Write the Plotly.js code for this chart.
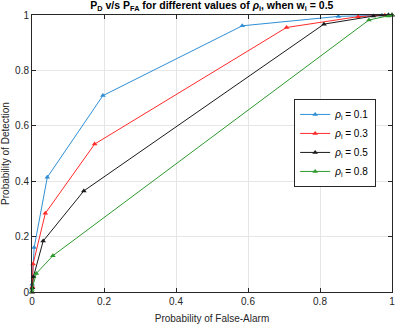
<!DOCTYPE html>
<html>
<head>
<meta charset="utf-8">
<script src="https://cdn.plot.ly/plotly-3.0.1.min.js"></script>
<style>
  html, body { margin: 0; padding: 0; background: #fff; }
  #chart { width: 396px; height: 328px; }
</style>
</head>
<body>
<div id="chart"></div>
<script>
// ROC points, one pair of arrays per rho value
var pfa_01 = [0, 0.0005, 0.006, 0.0425, 0.197, 0.584, 0.851, 0.972, 0.99, 1];
var pd_01 = [0, 0.028, 0.161, 0.414, 0.709, 0.961, 0.995, 0.999, 1, 1];

var pfa_03 = [0, 0.001, 0.003, 0.037, 0.174, 0.707, 0.906, 0.98, 1];
var pd_03 = [0, 0.02, 0.101, 0.284, 0.534, 0.955, 0.994, 0.999, 1];

var pfa_05 = [0, 0.001, 0.004, 0.031, 0.144, 0.811, 0.948, 0.99, 1];
var pd_05 = [0, 0.015, 0.055, 0.184, 0.365, 0.967, 0.996, 1, 1];

var pfa_08 = [0, 0.0, 0.012, 0.058, 0.936, 0.99, 1];
var pd_08 = [0, 0.01, 0.067, 0.131, 0.982, 0.996, 1];

var names = ["0.1", "0.3", "0.5", "0.8"];
var colors = ["#2f8fd5", "#ff2a2a", "#1a1a1a", "#2e9a2e"];
var xs = [pfa_01, pfa_03, pfa_05, pfa_08];
var ys = [pd_01, pd_03, pd_05, pd_08];

var traces = [];
for (var i = 0; i < xs.length; i++) {
  traces.push({
    x: xs[i],
    y: ys[i],
    mode: "lines+markers",
    name: "<i>ρ</i><sub>i</sub> = " + names[i],
    line: { color: colors[i], width: 1 },
    marker: { color: colors[i], symbol: "triangle-up", size: 5 },
    cliponaxis: false,
  });
}

var axisStyle = {
  range: [0, 1],
  dtick: 0.2,
  showline: true,
  mirror: "ticks",
  linecolor: "#262626",
  linewidth: 1,
  ticks: "inside",
  ticklen: 4,
  tickcolor: "#262626",
  showgrid: true,
  gridcolor: "#e6e6e6",
  zeroline: false,
  automargin: false,
  tickfont: { size: 10, color: "#262626" },
};

var layout = {
  width: 396,
  height: 328,
  margin: { l: 32, r: 4, t: 15, b: 36, autoexpand: false },
  paper_bgcolor: "#fff",
  plot_bgcolor: "#fff",
  font: { family: "Liberation Sans, Arial, sans-serif", color: "#262626" },
  title: {
    text: "<b>P<sub>D</sub> v/s P<sub>FA</sub> for different values of <i>ρ</i><sub>i</sub>, when w<sub>i</sub> = 0.5</b>",
    font: { size: 10.5, color: "#000" },
    x: 0.535,
    xanchor: "center",
    y: 0.995,
    yanchor: "top",
  },
  xaxis: Object.assign({}, axisStyle, {
    title: { text: "Probability of False-Alarm", font: { size: 10 }, standoff: 8 },
  }),
  yaxis: Object.assign({}, axisStyle, {
    title: { text: "Probability of Detection", font: { size: 10 }, standoff: 6 },
  }),
  legend: {
    x: 0.956,
    y: 0.697,
    xanchor: "right",
    yanchor: "top",
    bgcolor: "#fff",
    bordercolor: "#262626",
    borderwidth: 1,
    font: { size: 10, color: "#000" },
    itemwidth: 30,
    tracegroupgap: 0,
  },
  showlegend: true,
};

Plotly.newPlot("chart", traces, layout, { displayModeBar: false, staticPlot: true });
</script>
</body>
</html>
